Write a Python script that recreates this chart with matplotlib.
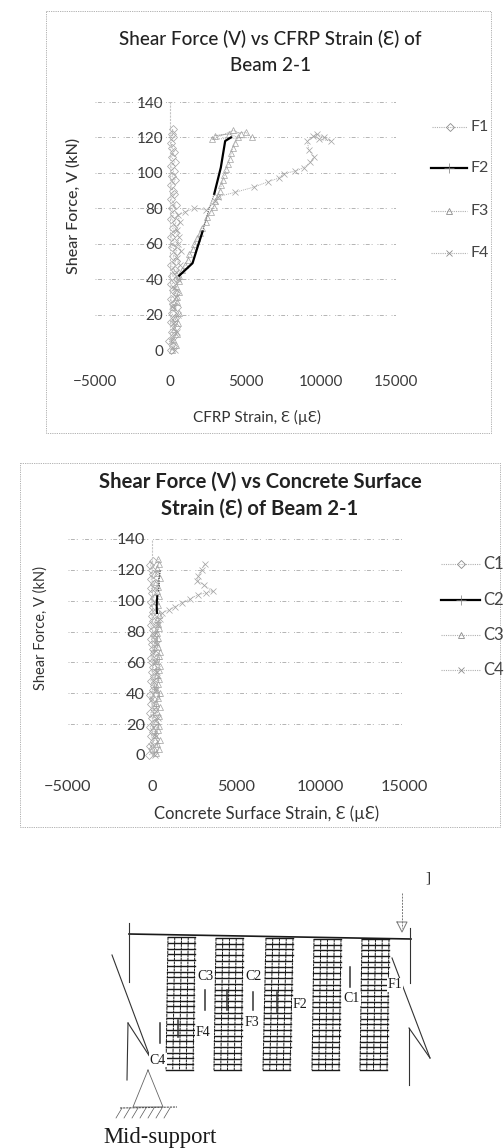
import matplotlib
matplotlib.use('Agg')
import matplotlib.pyplot as plt
from matplotlib.patches import Rectangle

plt.rcParams['font.family'] = ['Lato', 'DejaVu Sans']

W = 504
H = 1148

# chart 1, strains
f1_shear = [0, 2, 5, 8, 10, 13, 16, 18, 21, 24, 26, 29, 32, 34, 37, 40, 42, 45, 48, 50, 53, 56, 58, 61, 64, 66, 69, 72, 74, 77, 80, 82, 85, 88, 90, 93, 96, 98, 101, 104, 106, 109, 112, 114, 117, 120, 122, 125]
f1_strain = [40, 180, -60, 250, 110, 350, 20, 290, 90, 420, 150, 30, 380, 210, 70, 460, 120, 300, 20, 360, 180, 440, 90, 260, 30, 330, 150, 400, 60, 240, 110, 350, 40, 280, 170, 60, 330, 120, 220, 40, 300, 90, 250, 130, 60, 210, 110, 170]
f2_shear = [42, 49, 58, 67, 80, 88, 103, 118, 120]
f2_strain = [600, 1480, 1810, 2150, 2590, 2920, 3360, 3650, 4030]
f3_shear = [0, 3, 6, 9, 12, 15, 18, 21, 24, 27, 30, 33, 36, 39, 42, 45, 48, 51, 54, 57, 60, 63, 66, 69, 72, 75, 78, 81, 84, 87, 90, 93, 96, 99, 102, 105, 108, 111, 114, 117, 120, 122, 121, 123, 120, 119, 124, 122]
f3_strain = [120, 380, 150, 460, 260, 520, 300, 560, 180, 480, 420, 610, 360, 560, 600, 760, 1000, 1180, 1250, 1500, 1600, 1800, 2000, 2100, 2350, 2450, 2700, 2900, 3000, 3150, 3300, 3400, 3500, 3600, 3700, 3850, 3950, 4050, 4150, 4300, 4500, 3900, 3000, 5000, 5400, 2800, 4200, 4700]
f4_shear = [0, 5, 10, 15, 20, 25, 30, 35, 40, 44, 48, 52, 56, 60, 64, 68, 72, 76, 78, 80, 79, 84, 86.5, 89, 92, 95, 97, 99.6, 101, 103, 106, 109, 113, 118, 122, 120, 118, 119, 121]
f4_strain = [300, 80, 420, 200, 500, 120, 380, 260, 520, 360, 640, 420, 720, 500, 580, 420, 640, 500, 1000, 1600, 2400, 3000, 3150, 4300, 5575, 6500, 7200, 7566, 8300, 8894, 9300, 9558, 9200, 9115, 9779, 10200, 10664, 9900, 9500]
f_tick_x = [-5000, 0, 5000, 10000, 15000]
shear_ticks = [0, 20, 40, 60, 80, 100, 120, 140]

# chart 2
c1_shear = [0, 3, 6, 9, 12, 15, 18, 21, 24, 27, 30, 33, 36, 39, 42, 45, 48, 51, 54, 57, 60, 63, 66, 69, 72, 75, 78, 81, 84, 87, 90, 93, 96, 99, 102, 105, 108, 111, 114, 117, 120, 123, 126]
c1_strain = [-150, 60, -100, 110, -60, 40, -130, 90, 10, -90, 130, -40, 70, -120, 30, 100, -70, 140, -20, 80, 20, -50, 120, 60, 0, -30, 90, 40, -80, 50, -10, 70, 30, -60, 110, 20, -40, 90, -70, 60, 10, -90, 40]
c3_shear = [1, 4, 7, 10, 13, 16, 19, 22, 25, 28, 31, 34, 37, 40, 43, 46, 49, 52, 55, 58, 61, 64, 67, 70, 73, 76, 79, 82, 85, 88, 91, 94, 97, 100, 103, 106, 109, 112, 115, 118, 121, 124, 127]
c3_strain = [230, 430, 280, 470, 180, 360, 430, 220, 400, 300, 450, 260, 380, 480, 210, 340, 440, 290, 410, 500, 250, 390, 460, 330, 240, 370, 300, 420, 350, 280, 390, 310, 350, 260, 430, 300, 380, 240, 460, 320, 270, 410, 350]
c2_low_shear = [2, 8, 14, 20, 26, 32, 38, 44, 50, 56, 62, 68, 74, 80, 86]
c2_low_strain = [90, 310, 150, 380, 60, 260, 420, 130, 340, 210, 440, 100, 300, 180, 370]
c2_shear = [92, 97, 103]
c2_strain = [300, 280, 310]
c2_upper_shear = [106, 110, 114, 118, 120]
c2_upper_strain = [380, 430, 410, 470, 490]
c4_shear = [0, 6, 12, 18, 24, 30, 36, 42, 48, 54, 60, 66, 72, 78, 84, 88, 92, 94, 96, 98.5, 101, 104, 105, 106, 110, 113, 116, 120, 124]
c4_strain = [160, -40, 260, 30, 340, 120, -10, 240, 80, 320, 170, 40, 280, 110, 360, 450, 590, 1000, 1350, 1760, 2250, 2750, 3200, 3630, 3100, 2700, 2750, 2950, 3140]

# beam sketch, in reference pixels
strip_top_left = [168, 216, 266, 314, 362]
strip_bot_left = [166, 214, 263, 312, 360]
strip_top_y = [937, 938, 938, 939, 939]


def add_axes_px(left, right, top, bottom):
    return fig.add_axes([left / W, 1 - bottom / H, (right - left) / W, (bottom - top) / H])


def style_chart(ax, size):
    ax.set_xlim(-5000, 15000)
    ax.set_ylim(0, 140)
    ax.set_xticks(f_tick_x)
    ax.set_yticks(shear_ticks)
    ax.grid(axis='y', color='#b4b4b4', linestyle=(0, (1, 1.5, 4, 2, 1, 5)), linewidth=0.7)
    ax.set_axisbelow(True)
    for side in ['top', 'right', 'bottom']:
        ax.spines[side].set_visible(False)
    ax.spines['left'].set_position(('data', 0))
    ax.spines['left'].set_color('#c4c4c4')
    ax.spines['left'].set_linestyle((0, (1, 2)))
    ax.tick_params(axis='y', length=0, pad=5, labelsize=size, labelcolor='#3c3c3c')
    ax.tick_params(axis='x', length=0, pad=18, labelsize=size, labelcolor='#3c3c3c')
    ax.set_facecolor('none')


def light(ax, x, y, marker):
    ax.plot(x, y, color='#b0b0b0', linestyle=(0, (1, 1)), linewidth=0.7, marker=marker, markersize=4,
            markerfacecolor='none', markeredgecolor='#a2a2a2', markeredgewidth=0.5, clip_on=False)


def legend_row(x0, x1, y, name, size, dark=False, marker='o'):
    if dark:
        page.plot([x0, x1], [y, y], color='black', linewidth=1.6)
        page.plot([(x0 + x1) / 2], [y], marker='+', color='#777777', markersize=7, markeredgewidth=0.5)
    else:
        page.plot([x0, x1], [y, y], color='#b0b0b0', linestyle=(0, (1, 1)), linewidth=0.8)
        page.plot([(x0 + x1) / 2], [y], marker=marker, color='none', markeredgecolor='#8c8c8c',
                  markersize=4, markeredgewidth=0.6)
    page.text(x1 + 3, y, name, va='center', fontsize=size, color='#444444')


fig = plt.figure(figsize=(W / 100, H / 100), dpi=100)
fig.patch.set_facecolor('white')

page = fig.add_axes([0, 0, 1, 1])
page.set_xlim(0, W)
page.set_ylim(H, 0)
page.axis('off')

frame_kw = dict(fill=False, edgecolor='#a8a8a8', linewidth=0.6, linestyle=(0, (1.5, 1.2)))
page.add_patch(Rectangle((46, 11), 445, 422, **frame_kw))
page.add_patch(Rectangle((20, 463), 480, 364, **frame_kw))

# chart 1
ax1 = add_axes_px(95, 396, 102, 350)
light(ax1, f1_strain, f1_shear, 'D')
light(ax1, f3_strain, f3_shear, '^')
light(ax1, f4_strain, f4_shear, 'x')
ax1.plot(f2_strain[:4], f2_shear[:4], color='black', linewidth=1.6, zorder=5)
ax1.plot(f2_strain[5:], f2_shear[5:], color='black', linewidth=1.6, zorder=5)
ax1.plot(f2_strain[3:6], f2_shear[3:6], color='#666666', linewidth=0.8, linestyle=(0, (1, 1)), zorder=5)
style_chart(ax1, 11)
page.text(270, 52, 'Shear Force (V) vs CFRP Strain (Ɛ) of\nBeam 2-1', ha='center', va='center', fontsize=13.6,
          fontweight='medium', color='#222222', linespacing=1.7)
page.text(257, 417, 'CFRP Strain, Ɛ (µƐ)', ha='center', va='center', fontsize=11, color='#333333')
page.text(73, 206, 'Shear Force, V (kN)', ha='center', va='center', rotation=90, fontsize=11.5,
          fontweight='medium', color='#333333')

legend_row(432, 467, 127, 'F1', 11.5, marker='D')
legend_row(431, 467, 168, 'F2', 11.5, dark=True)
legend_row(431, 467, 211, 'F3', 11.5, marker='^')
legend_row(431, 467, 253, 'F4', 11.5, marker='x')

# chart 2
ax2 = add_axes_px(68, 404, 539, 755)
light(ax2, c1_strain, c1_shear, 'D')
light(ax2, c3_strain, c3_shear, '^')
light(ax2, c2_low_strain, c2_low_shear, '+')
light(ax2, c4_strain, c4_shear, 'x')
ax2.plot(c2_strain, c2_shear, color='black', linewidth=1.4, zorder=5)
ax2.plot(c2_upper_strain, c2_upper_shear, color='#444444', linewidth=0.9, linestyle=(0, (1, 1)), zorder=5)
style_chart(ax2, 11.8)
page.text(260, 495, 'Shear Force (V) vs Concrete Surface\nStrain (Ɛ) of Beam 2-1', ha='center', va='center',
          fontsize=14.6, fontweight='bold', color='#222222', linespacing=1.4)
page.text(267, 814, 'Concrete Surface Strain, Ɛ (µƐ)', ha='center', va='center', fontsize=12, color='#333333')
page.text(41, 628, 'Shear Force, V (kN)', ha='center', va='center', rotation=90, fontsize=10.5, color='#333333')

legend_row(441, 480, 564, 'C1', 12, marker='D')
legend_row(441, 480, 600, 'C2', 12, dark=True)
legend_row(441, 480, 635, 'C3', 12, marker='^')
legend_row(441, 480, 670, 'C4', 12, marker='x')

# beam sketch
ink = '#1a1a1a'
page.plot([129, 411], [934, 939], color=ink, linewidth=1.2)
for top_x, bot_x, top_y in zip(strip_top_left, strip_bot_left, strip_top_y):
    wide = 27
    for i in range(5):
        f = i / 4
        page.plot([top_x + f * wide, bot_x + f * wide], [top_y, 1070], color=ink, linewidth=0.7, linestyle=(0, (3, 0.6)))
    for i in range(24):
        f = i / 23
        y = top_y + f * (1070 - top_y)
        xl = top_x + f * (bot_x - top_x)
        page.plot([xl, xl + wide], [y, y], color=ink, linewidth=1.0)

breaks = [([129, 129], [923, 982]), ([112, 150], [955, 1057]), ([128, 127], [1023, 1080]), ([128, 150], [1023, 1057]),
          ([410, 410], [928, 983]), ([392, 430], [958, 1058]), ([409, 409], [1028, 1085]), ([409, 430], [1028, 1058])]
for xs, ys in breaks:
    page.plot(xs, ys, color='#333333', linewidth=0.8)

# support and load arrow
page.plot([148, 133, 163, 148], [1070, 1107, 1107, 1070], color='#666666', linewidth=0.6)
page.plot([120, 177], [1108, 1107], color='#555555', linewidth=0.8, linestyle=(0, (2, 0.8)))
for hatch_x in [122, 130, 138, 146, 154, 162, 170]:
    page.plot([hatch_x, hatch_x - 6], [1108, 1118], color='#555555', linewidth=0.5)
page.plot([402, 402], [893, 928], color='#777777', linewidth=0.7, linestyle=(0, (2, 1.2)))
page.plot([397, 407, 402, 397], [922, 922, 932, 922], color='#777777', linewidth=0.7)
page.text(428, 878, ']', ha='center', va='center', fontsize=11, family='Liberation Serif', color=ink)

# strain gauges
gauges = [(205, 990, 1010), (253, 992, 1010), (160, 1023, 1043), (350, 967, 987), (178, 1020, 1037), (227, 990, 1010), (277, 992, 1012)]
for gx, y0, y1 in gauges:
    page.plot([gx, gx], [y0, y1], color='#333333', linewidth=1.1)

sketch_labels = ['C3', 'C2', 'F2', 'F3', 'F4', 'C4', 'C1', 'F1']
label_x = [205, 253, 300, 252, 203, 158, 352, 395]
label_y = [976, 976, 1004, 1023, 1033, 1060, 999, 985]
for name, lx, ly in zip(sketch_labels, label_x, label_y):
    page.text(lx, ly, name, ha='center', va='center', fontsize=10, family='Liberation Serif', color=ink,
              bbox=dict(facecolor='white', edgecolor='none', pad=0.3), zorder=6)
page.text(103, 1137, 'Mid-support', ha='left', va='center', fontsize=16.3, family='Liberation Serif', color=ink)

fig.savefig('out.png', dpi=100)
